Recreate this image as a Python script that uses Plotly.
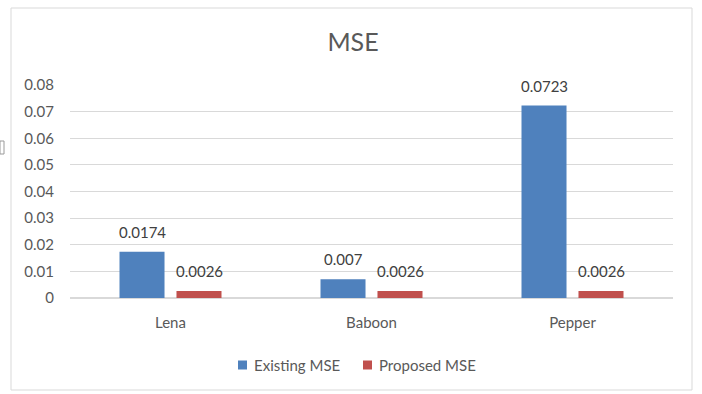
import plotly.graph_objects as go

categories = ["Lena", "Baboon", "Pepper"]
existing_mse = [0.0174, 0.007, 0.0723]
proposed_mse = [0.0026, 0.0026, 0.0026]
existing_labels = ["0.0174", "0.007", "0.0723"]
proposed_labels = ["0.0026", "0.0026", "0.0026"]
series_names = ["Existing MSE", "Proposed MSE"]
series_colors = ["#4F81BD", "#C0504D"]

FONT = "Lato, 'Open Sans', sans-serif"
TXT = "#595959"
LBL = "#404040"

L, R, T, B = 70, 29, 85, 96
W, H = 702, 394
pw, ph = W - L - R, H - T - B


def px(x):
    return (x - L) / pw


def py(y):
    return (H - B - y) / ph


fig = go.Figure()
for name, vals, col in zip(series_names, [existing_mse, proposed_mse], series_colors):
    fig.add_trace(go.Bar(
        x=categories, y=vals, name=name,
        marker=dict(color=col, line=dict(width=0)),
        showlegend=False,
    ))

annotations = []
for vals, labels, shift in [(existing_mse, existing_labels, -28.5),
                            (proposed_mse, proposed_labels, 28.5)]:
    for c, v, t in zip(categories, vals, labels):
        annotations.append(dict(
            x=c, y=v, xref="x", yref="y", text=t, showarrow=False,
            xshift=shift, yshift=20, yanchor="middle", xanchor="center",
            font=dict(size=15, color=LBL, family=FONT),
        ))

# manual legend (swatch + name)
legend_pos = [(238, 252), (363, 377)]
shapes = [
    dict(type="rect", xref="paper", yref="paper",
         x0=px(11), x1=px(692), y0=py(390), y1=py(8),
         line=dict(color="#D9D9D9", width=1), fillcolor="rgba(0,0,0,0)"),
    dict(type="rect", xref="paper", yref="paper",
         x0=px(0), x1=px(4), y0=py(154), y1=py(141),
         line=dict(color="#9A9A9A", width=1), fillcolor="rgba(0,0,0,0)"),
]
for (sx, tx), name, col in zip(legend_pos, series_names, series_colors):
    shapes.append(dict(type="rect", xref="paper", yref="paper",
                       x0=px(sx), x1=px(sx + 9), y0=py(369.5), y1=py(360.5),
                       line=dict(width=0), fillcolor=col))
    annotations.append(dict(x=px(tx), y=py(365), xref="paper", yref="paper",
                            text=name, showarrow=False, xanchor="left",
                            yanchor="middle",
                            font=dict(size=15, color=TXT, family=FONT)))

fig.update_layout(
    width=W, height=H,
    margin=dict(l=L, r=R, t=T, b=B),
    paper_bgcolor="white", plot_bgcolor="white",
    font=dict(family=FONT, color=TXT, size=15),
    barmode="group", bargap=0.433, bargroupgap=0.21,
    title=dict(text="MSE", xref="container", x=353 / W, xanchor="center",
               yref="container", y=1 - 42 / H, yanchor="middle",
               font=dict(size=25, color=TXT, family=FONT)),
    showlegend=False,
    xaxis=dict(showline=False, ticks="", showgrid=False, ticklabelstandoff=14,
               tickfont=dict(size=15, color=TXT, family=FONT)),
    yaxis=dict(range=[0, 0.08], dtick=0.01, showgrid=True, gridcolor="#D9D9D9",
               gridwidth=1, zeroline=True, zerolinecolor="#D9D9D9", showline=False,
               ticks="", ticklabelstandoff=15,
               tickfont=dict(size=15, color=TXT, family=FONT)),
    shapes=shapes,
    annotations=annotations,
)

fig.write_html("out.html")
